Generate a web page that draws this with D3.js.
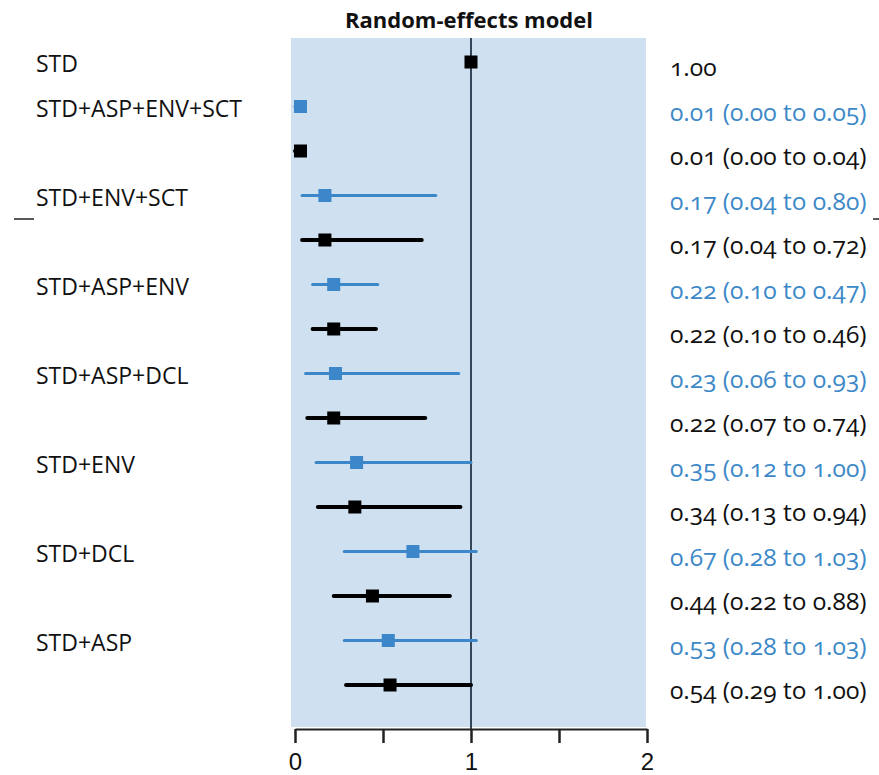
<!DOCTYPE html>
<html>
<head>
<meta charset="utf-8">
<script src="https://cdn.jsdelivr.net/npm/d3@7"></script>
<style>
  html, body { margin: 0; padding: 0; background: #fff; }
  svg { display: block; }
  .lbl { font-family: "Open Sans", "Noto Sans", sans-serif; }
  .num { font-family: "Open Sans", "Noto Sans", sans-serif; font-variant-numeric: oldstyle-nums; font-feature-settings: "onum" 1; }
</style>
</head>
<body>
<svg id="chart" width="879" height="775"></svg>
<script>
// ---- data ----
const comparisons = ["STD", "STD+ASP+ENV+SCT", "STD+ENV+SCT", "STD+ASP+ENV", "STD+ASP+DCL", "STD+ENV", "STD+DCL", "STD+ASP"];
// each comparison: first row (blue, except STD), second row (black)
const rowComparison = [0, 1, 1, 2, 2, 3, 3, 4, 4, 5, 5, 6, 6, 7, 7];
const rowSeries     = ["black", "blue", "black", "blue", "black", "blue", "black", "blue", "black", "blue", "black", "blue", "black", "blue", "black"];
const estimates = [1.00, 0.01, 0.01, 0.17, 0.17, 0.22, 0.22, 0.23, 0.22, 0.35, 0.34, 0.67, 0.44, 0.53, 0.54];
const lower     = [null, 0.00, 0.00, 0.04, 0.04, 0.10, 0.10, 0.06, 0.07, 0.12, 0.13, 0.28, 0.22, 0.28, 0.29];
const upper     = [null, 0.05, 0.04, 0.80, 0.72, 0.47, 0.46, 0.93, 0.74, 1.00, 0.94, 1.03, 0.88, 1.03, 1.00];
const tickValues = [0, 0.5, 1, 1.5, 2];
const tickLabels = ["0", "", "1", "", "2"];
const title = "Random-effects model";

// ---- layout ----
const svg = d3.select("#chart");
const colors = { blue: "#3b87c9", black: "#000000" };
const textColors = { blue: "#3d89c8", black: "#111111" };

const x = d3.scaleLinear().domain([0, 2]).range([295, 647]);
const y = d3.scalePoint().domain(d3.range(estimates.length)).range([62, 685]);

const plotTop = 38, plotBottom = 727;

// background
svg.append("rect")
  .attr("x", 291).attr("y", plotTop)
  .attr("width", 646 - 291).attr("height", plotBottom - plotTop)
  .attr("fill", "#cfe1f0");

// reference line at 1
svg.append("line")
  .attr("x1", x(1)).attr("x2", x(1))
  .attr("y1", plotTop).attr("y2", plotBottom + 2)
  .attr("stroke", "#34465a").attr("stroke-width", 2);

// title
svg.append("text")
  .attr("class", "lbl")
  .attr("x", x(1) - 2).attr("y", 28)
  .attr("text-anchor", "middle")
  .attr("font-size", 22).attr("font-weight", 700)
  .attr("fill", "#111")
  .text(title);

const rows = estimates.map((e, i) => ({
  i, est: e, lo: lower[i], hi: upper[i], series: rowSeries[i], comp: rowComparison[i]
}));

// CI lines
svg.append("g").selectAll("line")
  .data(rows.filter(d => d.lo !== null))
  .join("line")
  .attr("x1", d => x(d.lo)).attr("x2", d => x(d.hi))
  .attr("y1", d => y(d.i)).attr("y2", d => y(d.i))
  .attr("stroke", d => colors[d.series])
  .attr("stroke-width", d => d.series === "black" ? 4 : 3)
  .attr("stroke-linecap", "round");

// point squares
const sq = 13;
svg.append("g").selectAll("rect")
  .data(rows)
  .join("rect")
  .attr("x", d => Math.max(x(d.est) - sq / 2, 294))
  .attr("y", d => y(d.i) - sq / 2)
  .attr("width", sq).attr("height", sq)
  .attr("fill", d => colors[d.series]);

// left labels (one per comparison, on its first row)
const firstRows = rows.filter((d, k) => k === 0 || rowComparison[k] !== rowComparison[k - 1]);
svg.append("g").selectAll("text")
  .data(firstRows)
  .join("text")
  .attr("class", "lbl")
  .attr("x", 36).attr("y", d => y(d.i) + 10)
  .attr("font-size", 23)
  .attr("fill", "#111")
  .text(d => comparisons[d.comp]);

// right labels
const fmt = d3.format(".2f");
svg.append("g").selectAll("text")
  .data(rows)
  .join("text")
  .attr("class", "num")
  .attr("x", 670).attr("y", d => y(d.i) + 14)
  .attr("font-size", 24.5)
  .attr("fill", d => textColors[d.series])
  .text(d => d.lo === null ? fmt(d.est) : `${fmt(d.est)} (${fmt(d.lo)} to ${fmt(d.hi)})`);

// axis
const axis = d3.axisBottom(x)
  .tickValues(tickValues)
  .tickSize(14)
  .tickSizeOuter(0)
  .tickPadding(10)
  .tickFormat((d, i) => tickLabels[i]);
const ag = svg.append("g").attr("transform", `translate(0,${plotBottom + 2})`).call(axis);
ag.select(".domain").attr("stroke", "#222").attr("stroke-width", 2);
ag.selectAll(".tick line").attr("stroke", "#222").attr("stroke-width", 2.5);
ag.selectAll(".tick text")
  .attr("font-family", "'Liberation Sans', Arial, sans-serif")
  .attr("font-size", 24).attr("fill", "#111");

// stray marks in the original figure
svg.append("line").attr("x1", 14).attr("x2", 34).attr("y1", 219).attr("y2", 219)
  .attr("stroke", "#222").attr("stroke-width", 1.5);
svg.append("line").attr("x1", 873).attr("x2", 879).attr("y1", 219).attr("y2", 219)
  .attr("stroke", "#222").attr("stroke-width", 1.5);
</script>
</body>
</html>
